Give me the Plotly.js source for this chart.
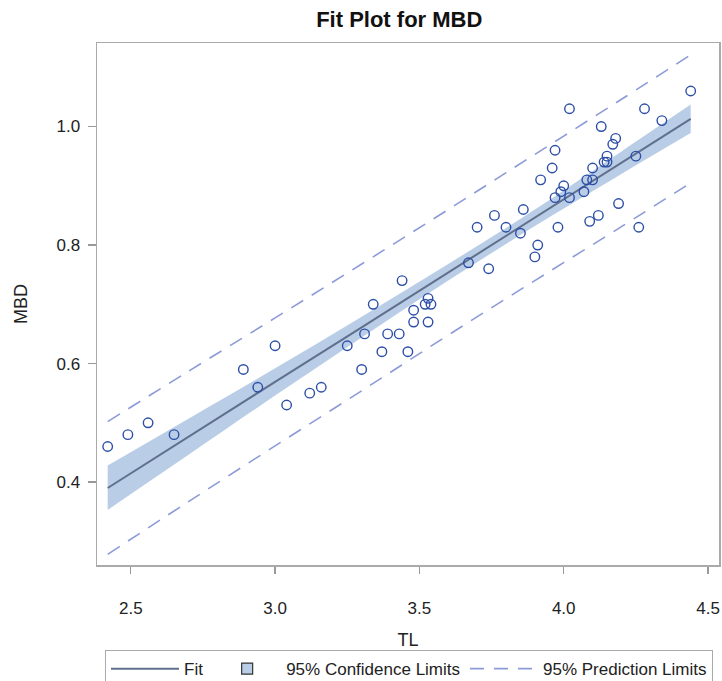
<!DOCTYPE html>
<html>
<head>
<meta charset="utf-8">
<script src="https://cdn.plot.ly/plotly-3.0.1.min.js"></script>
<style>html,body{margin:0;padding:0;background:#fff;}#chart{width:722px;height:681px;}</style>
</head>
<body>
<div id="chart"></div>
<script>
// Observed data (TL, MBD)
const tl = [2.42,2.49,2.56,2.65,2.89,2.94,3.00,3.04,3.12,3.16,3.25,3.30,3.31,3.34,3.37,3.39,3.43,3.44,3.46,3.48,3.48,3.52,3.53,3.54,3.53,
            3.67,3.70,3.74,3.76,3.80,3.85,3.86,3.90,3.91,3.92,3.96,3.97,3.97,3.98,3.99,4.00,4.02,4.02,4.07,4.08,4.09,4.10,4.10,4.12,
            4.13,4.14,4.15,4.15,4.17,4.18,4.19,4.25,4.26,4.28,4.34,4.44];
const mbd = [0.46,0.48,0.50,0.48,0.59,0.56,0.63,0.53,0.55,0.56,0.63,0.59,0.65,0.70,0.62,0.65,0.65,0.74,0.62,0.69,0.67,0.70,0.71,0.70,0.67,
             0.77,0.83,0.76,0.85,0.83,0.82,0.86,0.78,0.80,0.91,0.93,0.96,0.88,0.83,0.89,0.90,1.03,0.88,0.89,0.91,0.84,0.93,0.91,0.85,
             1.00,0.94,0.94,0.95,0.97,0.98,0.87,0.95,0.83,1.03,1.01,1.06];

// Fit line and limits at sample TL values
const gridX   = [2.42, 2.70, 3.00, 3.30, 3.60, 3.90, 4.20, 4.44];
const fitY    = [0.390, 0.477, 0.569, 0.661, 0.754, 0.846, 0.939, 1.013];
const clLower = [0.353, 0.446, 0.546, 0.644, 0.740, 0.832, 0.920, 0.989];
const clUpper = [0.428, 0.507, 0.592, 0.679, 0.768, 0.860, 0.958, 1.037];
const plLower = [0.278, 0.367, 0.461, 0.554, 0.648, 0.740, 0.831, 0.905];
const plUpper = [0.502, 0.587, 0.677, 0.768, 0.860, 0.953, 1.046, 1.121];

const xTicks = [2.5, 3.0, 3.5, 4.0, 4.5];
const yTicks = [0.4, 0.6, 0.8, 1.0];

const font = 'Liberation Sans, Arial, sans-serif';
const txt = '#222';
const bandColor = '#b9cde6';

const traces = [
  {x: gridX, y: clLower, mode: 'lines', line: {width: 0, color: 'rgba(0,0,0,0)', shape: 'spline'},
   showlegend: false, hoverinfo: 'skip'},
  {x: gridX, y: clUpper, mode: 'lines', line: {width: 0, color: 'rgba(0,0,0,0)', shape: 'spline'},
   fill: 'tonexty', fillcolor: bandColor, showlegend: false},
  {x: gridX, y: fitY, mode: 'lines', line: {color: '#5f6f8c', width: 2}, name: 'Fit', legendrank: 1},
  // legend proxy for the confidence band (square swatch)
  {x: [null], y: [null], mode: 'markers', name: '95% Confidence Limits', legendrank: 2,
   marker: {symbol: 'square', size: 11, color: bandColor, line: {width: 1.2, color: '#333'}}},
  {x: gridX, y: plLower, mode: 'lines', line: {color: '#8c9bd8', width: 1.6, dash: '14px,10px', shape: 'spline'},
   name: '95% Prediction Limits', legendgroup: 'pl', legendrank: 3},
  {x: gridX, y: plUpper, mode: 'lines', line: {color: '#8c9bd8', width: 1.6, dash: '14px,10px', shape: 'spline'},
   showlegend: false, legendgroup: 'pl'},
  {x: tl, y: mbd, mode: 'markers', showlegend: false,
   marker: {symbol: 'circle-open', size: 9.5, color: '#2c4ea6', line: {width: 1.4, color: '#2c4ea6'}}}
];

const layout = {
  width: 722, height: 681,
  margin: {l: 97, r: 3, t: 43, b: 116, autoexpand: false},
  paper_bgcolor: '#fff', plot_bgcolor: '#fff',
  font: {family: font, color: txt, size: 17},
  title: {text: '<b>Fit Plot for MBD</b>', x: 0.553, xanchor: 'center', y: 0.972, yanchor: 'middle',
          font: {family: font, size: 22, color: '#111'}},
  xaxis: {range: [2.383, 4.538], tickvals: xTicks, ticktext: xTicks.map(v => v.toFixed(1)),
          ticks: 'outside', ticklen: 7, tickcolor: '#999', tickwidth: 1.2, ticklabelstandoff: 20,
          showgrid: false, zeroline: false, showline: true, linecolor: '#aaa', linewidth: 1.5, mirror: true,
          automargin: false, tickfont: {size: 17, color: txt},
          title: {text: 'TL', font: {size: 18, color: txt}, standoff: 16}},
  yaxis: {range: [0.260, 1.141], tickvals: yTicks, ticktext: yTicks.map(v => v.toFixed(1)),
          ticks: 'outside', ticklen: 8, tickcolor: '#999', tickwidth: 1.2, ticklabelstandoff: 4,
          showgrid: false, zeroline: false, showline: true, linecolor: '#aaa', linewidth: 1.5, mirror: true,
          automargin: false, tickfont: {size: 17, color: txt},
          title: {text: 'MBD', font: {size: 18, color: txt}, standoff: 24}},
  legend: {orientation: 'h', x: 0.5016, xanchor: 'center', y: -0.163, yanchor: 'top',
           bordercolor: '#aaa', borderwidth: 1, bgcolor: '#fff',
           font: {size: 17, color: txt}, traceorder: 'normal', itemwidth: 68},
  showlegend: true
};

Plotly.newPlot('chart', traces, layout, {displayModeBar: false, staticPlot: true});
</script>
</body>
</html>
